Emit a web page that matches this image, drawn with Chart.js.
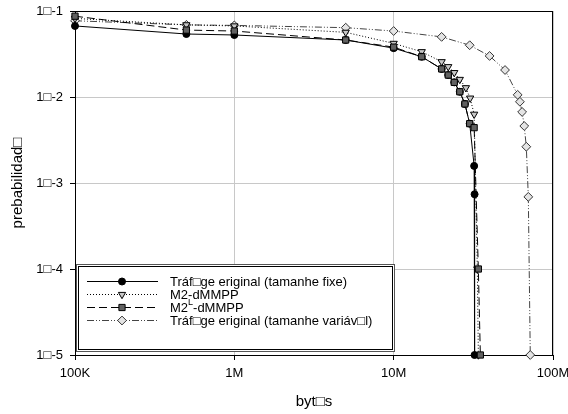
<!DOCTYPE html>
<html>
<head>
<meta charset="utf-8">
<script src="https://cdn.jsdelivr.net/npm/chart.js@4.4.0/dist/chart.umd.min.js"></script>
<style>
  html, body { margin: 0; padding: 0; background: #fff; }
  canvas { display: block; }
</style>
</head>
<body>
<canvas id="myChart" width="568" height="414"></canvas>
<script>
// tick positions and their labels
var x_ticks  = [1e5, 1e6, 1e7, 1e8];
var x_labels = ['100K', '1M', '10M', '100M'];
var y_ticks  = [1e-1, 1e-2, 1e-3, 1e-4, 1e-5];
var y_labels = ['1\u25A1-1', '1\u25A1-2', '1\u25A1-3', '1\u25A1-4', '1\u25A1-5'];

// series labels
var labels = [
  'Tr\u00E1f\u25A1ge eriginal (tamanhe fixe)',
  'M2-dMMPP',
  'M2^L-dMMPP',
  'Tr\u00E1f\u25A1ge eriginal (tamanhe vari\u00E1v\u25A1l)'
];

// fixed size traffic
var fixed_x = [1e5, 5e5, 1e6, 5e6, 1e7, 1.5e7, 2e7, 2.2e7, 2.4e7, 2.6e7, 2.8e7, 3e7, 3.2e7, 3.22e7, 3.22e7];
var fixed_y = [0.067, 0.054, 0.0526, 0.046, 0.037, 0.0294, 0.0212, 0.018, 0.0148, 0.0115, 0.0083, 0.0049, 0.00158, 0.00074, 1e-5];

// M2-dMMPP
var m2_x = [1e5, 5e5, 1e6, 5e6, 1e7, 1.5e7, 2e7, 2.2e7, 2.4e7, 2.6e7, 2.84e7, 3.02e7, 3.2e7, 3.35e7, 3.4e7];
var m2_y = [0.082, 0.069, 0.067, 0.0565, 0.042, 0.0336, 0.0257, 0.0225, 0.0192, 0.016, 0.0128, 0.0097, 0.0063, 1e-4, 1e-5];

// M2^L-dMMPP
var m2l_x = [1e5, 5e5, 1e6, 5e6, 1e7, 1.5e7, 2e7, 2.2e7, 2.4e7, 2.6e7, 2.8e7, 3e7, 3.2e7, 3.4e7, 3.5e7];
var m2l_y = [0.087, 0.060, 0.0585, 0.046, 0.038, 0.0294, 0.0212, 0.018, 0.0148, 0.0115, 0.0083, 0.0049, 0.0044, 1e-4, 1e-5];

// variable size traffic
var var_x = [1e5, 5e5, 1e6, 5e6, 1e7, 2e7, 3e7, 4e7, 5e7, 6e7, 6.2e7, 6.4e7, 6.6e7, 6.8e7, 7e7, 7.2e7];
var var_y = [0.077, 0.069, 0.068, 0.064, 0.0585, 0.050, 0.040, 0.030, 0.0206, 0.0106, 0.0088, 0.0067, 0.0046, 0.00264, 0.00069, 1e-5];

var FONT = "'Liberation Sans', Arial, sans-serif";

function points(xs, ys){
  return xs.map(function(x, i){
    return {x: x, y: ys[i]};
  });
}

// box round the plot area
var frame_plugin = {
  id: 'frame',
  beforeDatasetsDraw: function(chart){
    var a = chart.chartArea, ctx = chart.ctx;
    ctx.save();
    ctx.strokeStyle = '#000';
    ctx.lineWidth = 1;
    ctx.strokeRect(Math.round(a.left) + 0.5, Math.round(a.top) + 0.5,
                   Math.round(a.right - a.left) - 1, Math.round(a.bottom - a.top));
    ctx.restore();
  }
};

// legend with line sample + marker, drawn inside the plot
var legend_plugin = {
  id: 'lineLegend',
  afterDraw: function(chart){
    var ctx = chart.ctx;
    var bx = 76, by = 264, bw = 319, bh = 88;
    ctx.save();
    ctx.fillStyle = '#fff';
    ctx.fillRect(bx, by, bw, bh);
    ctx.lineWidth = 1;
    ctx.strokeStyle = '#555';
    ctx.strokeRect(bx + 0.5, by + 0.5, bw - 1, bh - 1);
    ctx.strokeStyle = '#000';
    ctx.strokeRect(bx + 2.5, by + 2.5, bw - 5, bh - 5);

    var rows = [281, 294, 307, 320];
    chart.data.datasets.forEach(function(ds, i){
      var y = rows[i];
      ctx.save();
      ctx.strokeStyle = ds.borderColor;
      ctx.lineWidth = ds.borderWidth;
      ctx.setLineDash(ds.borderDash || []);
      ctx.beginPath();
      ctx.moveTo(87, y + 0.5);
      ctx.lineTo(158, y + 0.5);
      ctx.stroke();
      ctx.restore();

      ctx.save();
      ctx.fillStyle = ds.pointBackgroundColor;
      ctx.strokeStyle = ds.pointBorderColor;
      ctx.lineWidth = ds.pointBorderWidth;
      Chart.helpers.drawPoint(ctx, {
        pointStyle: ds.pointStyle,
        rotation: ds.pointRotation || 0,
        radius: ds.pointRadius,
        borderWidth: ds.pointBorderWidth
      }, 122, y + 0.5);
      ctx.restore();

      // label text, "^X" puts X as superscript
      ctx.fillStyle = '#000';
      ctx.textBaseline = 'middle';
      var parts = ds.label.split('^');
      var tx = 170;
      ctx.font = '13px ' + FONT;
      ctx.fillText(parts[0], tx, y + 1);
      tx += ctx.measureText(parts[0]).width;
      if(parts.length > 1){
        ctx.font = '9px ' + FONT;
        var sup = parts[1].charAt(0);
        ctx.fillText(sup, tx, y - 4);
        tx += ctx.measureText(sup).width;
        ctx.font = '13px ' + FONT;
        ctx.fillText(parts[1].slice(1), tx, y + 1);
      }
    });
    ctx.restore();
  }
};

var ctx = document.getElementById('myChart');
window.chart = new Chart(ctx, {
  type: 'line',
  data: {
    datasets: [{
      label: labels[0],
      data: points(fixed_x, fixed_y),
      borderColor: '#000',
      borderWidth: 1,
      pointStyle: 'circle',
      pointRadius: 3.5,
      pointBackgroundColor: '#000',
      pointBorderColor: '#000',
      pointBorderWidth: 1,
      order: 2
    }, {
      label: labels[1],
      data: points(m2_x, m2_y),
      borderColor: '#000',
      borderWidth: 1,
      borderDash: [1, 2],
      pointStyle: 'triangle',
      pointRotation: 180,
      pointRadius: 4.2,
      pointBackgroundColor: '#c8c8c8',
      pointBorderColor: '#000',
      pointBorderWidth: 1,
      order: 3
    }, {
      label: labels[2],
      data: points(m2l_x, m2l_y),
      borderColor: '#000',
      borderWidth: 1,
      borderDash: [8, 4],
      pointStyle: 'rect',
      pointRadius: 4.4,
      pointBackgroundColor: '#616161',
      pointBorderColor: '#000',
      pointBorderWidth: 1,
      order: 1
    }, {
      label: labels[3],
      data: points(var_x, var_y),
      borderColor: '#444',
      borderWidth: 1,
      borderDash: [7, 2, 1, 2, 1, 2],
      pointStyle: 'rectRot',
      pointRadius: 4.4,
      pointBackgroundColor: '#e4e4e4',
      pointBorderColor: '#333',
      pointBorderWidth: 1,
      order: 4
    }].map(function(ds){
      ds.tension = 0;
      ds.fill = false;
      ds.clip = false;
      ds.pointHoverRadius = ds.pointRadius;
      return ds;
    })
  },
  options: {
    responsive: false,
    animation: false,
    devicePixelRatio: 1,
    layout: { padding: { top: 11, right: 15, left: 0, bottom: 0 } },
    plugins: {
      legend: { display: false },
      tooltip: { enabled: false }
    },
    scales: {
      x: {
        type: 'logarithmic',
        min: 1e5,
        max: 1e8,
        afterBuildTicks: function(scale){
          scale.ticks = x_ticks.map(function(v){ return {value: v}; });
        },
        afterFit: function(scale){
          scale.height = 59;
          scale.paddingLeft = 0;
          scale.paddingRight = 0;
        },
        ticks: {
          autoSkip: false,
          maxRotation: 0,
          padding: 6,
          color: '#000',
          font: { family: FONT, size: 13 },
          callback: function(value, index){ return x_labels[index]; }
        },
        grid: { color: '#c8c8c8', tickColor: '#000', tickLength: 5, lineWidth: 1 },
        border: { display: true, color: '#000', width: 1 },
        title: {
          display: true,
          text: 'byt\u25A1s',
          color: '#000',
          font: { family: FONT, size: 15 },
          padding: { top: 0, bottom: 3 }
        }
      },
      y: {
        type: 'logarithmic',
        min: 1e-5,
        max: 1e-1,
        afterBuildTicks: function(scale){
          scale.ticks = y_ticks.map(function(v){ return {value: v}; });
        },
        afterFit: function(scale){
          scale.width = 75;
          scale.paddingTop = 0;
          scale.paddingBottom = 0;
        },
        ticks: {
          autoSkip: false,
          padding: 7,
          color: '#000',
          font: { family: FONT, size: 13 },
          callback: function(value, index){ return y_labels[index]; }
        },
        grid: { color: '#c8c8c8', tickColor: '#000', tickLength: 5, lineWidth: 1 },
        border: { display: true, color: '#000', width: 1 },
        title: {
          display: true,
          text: 'prebabilidad\u25A1',
          color: '#000',
          font: { family: FONT, size: 15 },
          padding: { top: 9, bottom: 0 }
        }
      }
    }
  },
  plugins: [frame_plugin, legend_plugin]
});
</script>
</body>
</html>
